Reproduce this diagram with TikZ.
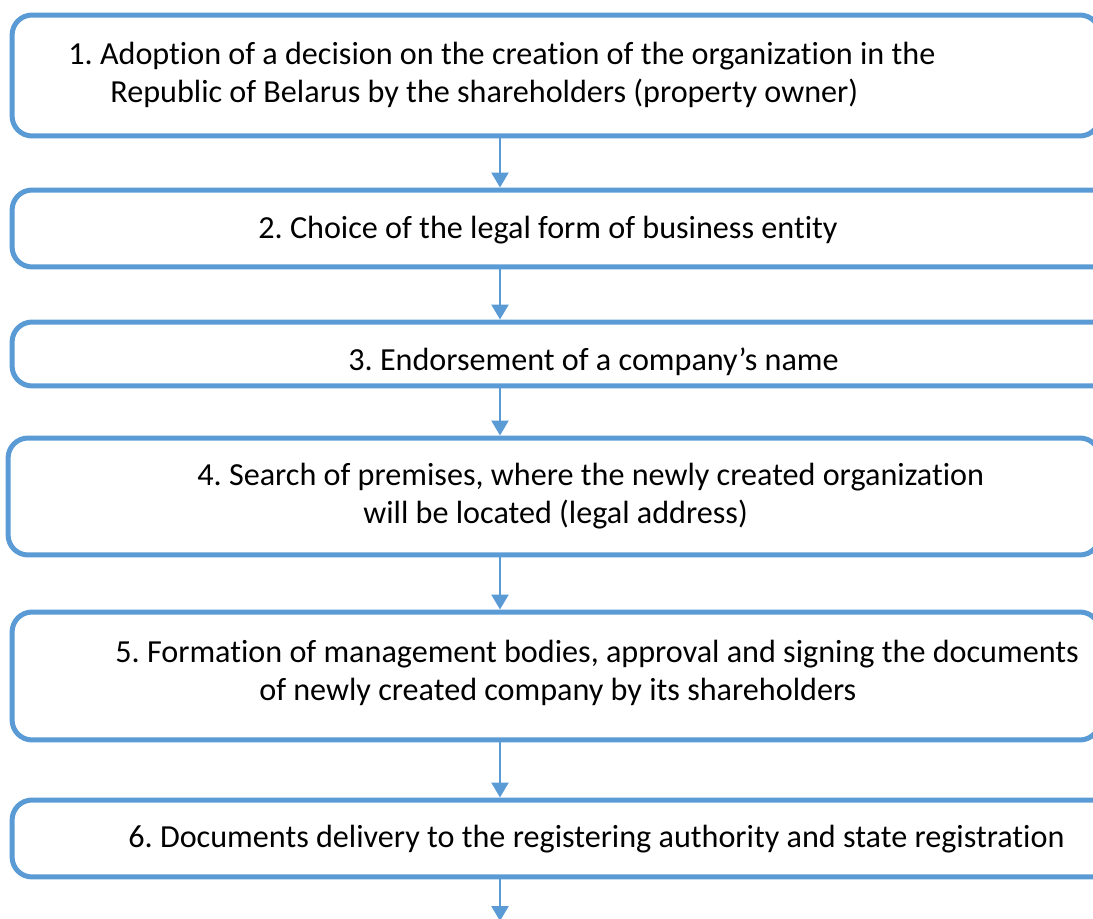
\documentclass[tikz,border=0pt]{standalone}
\usepackage{fontspec}
\setmainfont{Carlito}[Ligatures=NoCommon]
\usetikzlibrary{arrows.meta}
\definecolor{stepblue}{RGB}{91,155,213}
\frenchspacing

\begin{document}
\begin{tikzpicture}[x=0.02cm, y=-0.02cm,
    stepbox/.style={draw=stepblue, line width=0.1cm, rounded corners=0.4cm, inner sep=0pt},
    steptext/.style={anchor=base west, inner sep=0pt, font=\fontsize{18.3}{22}\selectfont},
    flow/.style={stepblue, line width=0.05cm, -{Triangle[width=0.34cm,length=0.3cm]}}]
	% Frame of the picture
	\useasboundingbox (0,0) rectangle (1093,919);
	\clip (0,0) rectangle (1093,919);
	
	% Boxes of the steps
	\node[stepbox, minimum width=21.76cm, minimum height=2.42cm] (b1) at (556,75.5) {};
	\node[stepbox, minimum width=22.06cm, minimum height=1.54cm] (b2) at (563.5,228.5) {};
	\node[stepbox, minimum width=22.06cm, minimum height=1.28cm] (b3) at (563.5,354) {};
	\node[stepbox, minimum width=21.84cm, minimum height=2.34cm] (b4) at (554,496.5) {};
	\node[stepbox, minimum width=21.76cm, minimum height=2.56cm] (b5) at (556,676) {};
	\node[stepbox, minimum width=22.06cm, minimum height=1.54cm] (b6) at (563.5,838.5) {};
	
	% Texts of the steps
	\node[steptext] (t1a) at (68,65) {1. Adoption of a decision on the creation of the organization in the};
	\node[steptext] (t1b) at (110,103) {Republic of Belarus by the shareholders (property owner)};
	\node[steptext] (t2) at (258,238) {2. Choice of the legal form of business entity};
	\node[steptext] (t3) at (348,370) {3. Endorsement of a company’s name};
	\node[steptext] (t4a) at (197,485) {4. Search of premises, where the newly created organization};
	\node[steptext] (t4b) at (363,523) {will be located (legal address)};
	\node[steptext] (t5a) at (115,662) {5. Formation of management bodies, approval and signing the documents};
	\node[steptext] (t5b) at (259,700) {of newly created company by its shareholders};
	\node[steptext] (t6) at (128,847) {6. Documents delivery to the registering authority and state registration};
	
	% Arrows between the steps
	\coordinate (ax) at (500,0);
	\coordinate (end) at (500,921);
	\draw[flow] (b1.south -| ax) -- (b2.north -| ax);
	\draw[flow] (b2.south -| ax) -- (b3.north -| ax);
	\draw[flow] (b3.south -| ax) -- (b4.north -| ax);
	\draw[flow] (b4.south -| ax) -- (b5.north -| ax);
	\draw[flow] (b5.south -| ax) -- (b6.north -| ax);
	\draw[flow] (b6.south -| ax) -- (end);
\end{tikzpicture}
\end{document}
